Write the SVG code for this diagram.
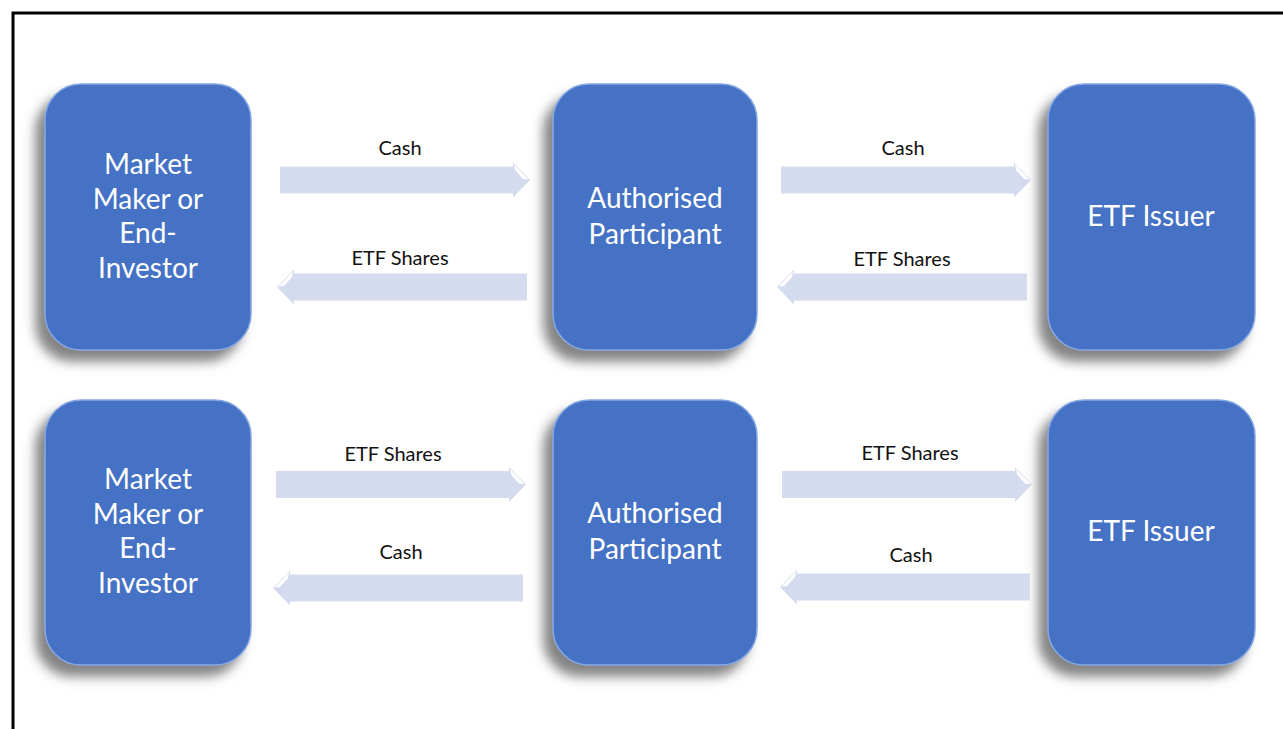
<svg xmlns="http://www.w3.org/2000/svg" xmlns:xlink="http://www.w3.org/1999/xlink" width="1283" height="729" viewBox="0 0 1283 729">
  <style>
    .box { fill: #4472C4; stroke: #86A8E2; stroke-width: 1.5; filter: url(#shadow); }
    .boxText { font-family: Lato, "Open Sans", "Liberation Sans", sans-serif; font-size: 28px; fill: #FFFFFF; text-anchor: middle; }
    .flowLabel { font-family: Lato, "Open Sans", "Liberation Sans", sans-serif; font-size: 20px; fill: #111111; text-anchor: middle; }
    .arrowBody { fill: #D5DBEF; }
    .arrowShine { fill: #FFFFFF; }
  </style>
  <defs>
    <filter id="shadow" x="-20%" y="-20%" width="140%" height="140%">
      <feDropShadow dx="-9" dy="11" stdDeviation="6" flood-color="#6e6e6e" flood-opacity="0.85"/>
    </filter>
    <!-- block arrow pointing right, 250 long, origin at tail centre -->
    <g id="blockArrow">
      <path class="arrowBody" d="M0,-13.5 H233 V-17.5 L250,0 L233,17.5 V13.5 H0 Z"/>
      <polygon class="arrowShine" points="234,-15.5 248.5,-0.5 243,-1 235,-10"/>
    </g>
  </defs>

  <rect width="1283" height="729" fill="#FFFFFF"/>
  <path d="M13,729 V13 H1283" fill="none" stroke="#000000" stroke-width="3"/>

  <!-- top row: creation -->
  <g id="investor-top">
    <rect class="box" x="45" y="84" width="206" height="266" rx="36"/>
    <text class="boxText" x="148" y="174">Market</text>
    <text class="boxText" x="148" y="209">Maker or</text>
    <text class="boxText" x="148" y="243">End-</text>
    <text class="boxText" x="148" y="278">Investor</text>
  </g>
  <g id="ap-top">
    <rect class="box" x="553" y="84" width="204" height="266" rx="36"/>
    <text class="boxText" x="655" y="208">Authorised</text>
    <text class="boxText" x="655" y="244">Participant</text>
  </g>
  <g id="issuer-top">
    <rect class="box" x="1048" y="84" width="207" height="266" rx="36"/>
    <text class="boxText" x="1151" y="226">ETF Issuer</text>
  </g>

  <!-- bottom row: redemption -->
  <g id="investor-bottom">
    <rect class="box" x="45" y="400" width="206" height="265" rx="36"/>
    <text class="boxText" x="148" y="489">Market</text>
    <text class="boxText" x="148" y="524">Maker or</text>
    <text class="boxText" x="148" y="558">End-</text>
    <text class="boxText" x="148" y="593">Investor</text>
  </g>
  <g id="ap-bottom">
    <rect class="box" x="553" y="400" width="204" height="265" rx="36"/>
    <text class="boxText" x="655" y="523">Authorised</text>
    <text class="boxText" x="655" y="559">Participant</text>
  </g>
  <g id="issuer-bottom">
    <rect class="box" x="1048" y="400" width="207" height="265" rx="36"/>
    <text class="boxText" x="1151" y="541">ETF Issuer</text>
  </g>

  <g id="connectors">
    <use xlink:href="#blockArrow" transform="translate(280,180)"/>
    <use xlink:href="#blockArrow" transform="translate(527,287) scale(-1,1)"/>
    <use xlink:href="#blockArrow" transform="translate(781,180)"/>
    <use xlink:href="#blockArrow" transform="translate(1027,287) scale(-1,1)"/>
    <use xlink:href="#blockArrow" transform="translate(276,484.5)"/>
    <use xlink:href="#blockArrow" transform="translate(523,588) scale(-1,1)"/>
    <use xlink:href="#blockArrow" transform="translate(782,484.5)"/>
    <use xlink:href="#blockArrow" transform="translate(1030,587) scale(-1,1)"/>

    <text class="flowLabel" x="400" y="155">Cash</text>
    <text class="flowLabel" x="400" y="265">ETF Shares</text>
    <text class="flowLabel" x="903" y="155">Cash</text>
    <text class="flowLabel" x="902" y="266">ETF Shares</text>
    <text class="flowLabel" x="393" y="461">ETF Shares</text>
    <text class="flowLabel" x="401" y="559">Cash</text>
    <text class="flowLabel" x="910" y="460">ETF Shares</text>
    <text class="flowLabel" x="911" y="562">Cash</text>
  </g>
</svg>
